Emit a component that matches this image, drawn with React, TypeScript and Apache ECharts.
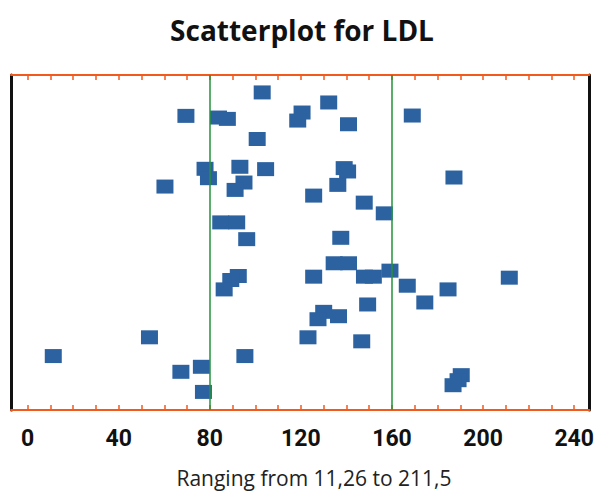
import React, { useEffect, useRef } from "react";
import * as echarts from "echarts";

const xValues: number[] = [
  103.0, 69.5, 83.8, 87.7, 120.5, 118.6, 132.2, 140.9, 168.9, 100.8,
  77.9, 79.4, 93.2, 104.5, 95.0, 91.1, 60.3, 139.0, 140.5, 136.2,
  125.6, 147.8, 156.6, 187.2, 84.8, 91.8, 96.2, 137.5, 92.5, 89.2,
  86.3, 134.6, 140.9, 125.6, 147.9, 151.8, 159.1, 166.7, 184.6, 174.4,
  211.5, 149.3, 130.0, 127.5, 136.5, 123.1, 146.7, 53.5, 11.26, 95.4,
  67.3, 76.3, 77.2, 190.4, 189.0, 186.8,
];
const yJitter: number[] = [
  94.8, 87.8, 87.3, 86.9, 88.8, 86.4, 91.8, 85.3, 87.9, 80.9,
  72.0, 69.2, 72.6, 71.9, 67.9, 65.7, 66.7, 72.2, 71.2, 67.2,
  64.0, 61.9, 58.7, 69.4, 56.0, 56.0, 51.0, 51.4, 40.0, 38.8,
  36.0, 43.8, 43.8, 39.8, 39.8, 39.8, 41.6, 37.1, 36.0, 32.1,
  39.5, 31.5, 29.3, 27.1, 28.0, 21.7, 20.5, 21.7, 16.1, 16.1,
  11.4, 12.9, 5.4, 10.4, 8.9, 7.4,
];
const tickValues: number[] = [0, 10, 20, 30, 40, 50, 60, 70, 80, 90, 100, 110, 120, 130, 140, 150, 160, 170, 180, 190, 200, 210, 220, 230, 240];
const labelValues: number[] = [0, 40, 80, 120, 160, 200, 240];
const referenceLines: number[] = [80, 160];
const titleText = "Scatterplot for LDL";
const subtitleText = "Ranging from 11,26 to 211,5";

const ORANGE = "#f25a1d";
const BLUE = "#2c62a0";
const GREEN = "#23923a";

export default function App() {
  const ref = useRef<HTMLDivElement>(null);
  useEffect(() => {
    if (!ref.current) return;
    const chart = echarts.init(ref.current, null, { renderer: "svg" });
    const points = xValues.map((x, i) => [x, yJitter[i]]);
    const xCommon = {
      type: "value" as const,
      min: -7.3,
      max: 246.7,
      splitLine: { show: false },
      axisLine: { show: true, onZero: false, lineStyle: { color: ORANGE, width: 2 } },
      axisTick: {
        show: true,
        inside: true,
        length: 5,
        customValues: tickValues,
        lineStyle: { color: ORANGE, width: 1.5 },
      },
    };
    const yCommon = {
      type: "value" as const,
      min: 0,
      max: 100,
      splitLine: { show: false },
      axisTick: { show: false },
      axisLabel: { show: false },
      axisLine: { show: true, onZero: false, lineStyle: { color: "#111111", width: 3 } },
    };
    chart.setOption({
      animation: false,
      backgroundColor: "#ffffff",
      grid: { left: 11, right: 5, top: 75, bottom: 82, containLabel: false },
      xAxis: [
        {
          ...xCommon,
          position: "bottom",
          axisLabel: {
            show: true,
            customValues: labelValues,
            margin: 17,
            color: "#111111",
            fontSize: 23,
            fontWeight: "bold",
            fontFamily: "Roboto, sans-serif",
          },
        },
        {
          ...xCommon,
          position: "top",
          axisLabel: { show: false },
        },
      ],
      yAxis: [
        { ...yCommon, position: "left" },
        { ...yCommon, position: "right" },
      ],
      graphic: [
        {
          type: "text",
          x: 302,
          y: 30,
          style: {
            text: titleText,
            fill: "#111111",
            font: "bold 28px 'Open Sans', sans-serif",
            textAlign: "center",
            textVerticalAlign: "middle",
          },
        },
        {
          type: "text",
          x: 314,
          y: 478,
          style: {
            text: subtitleText,
            fill: "#222222",
            font: "21px 'Open Sans', sans-serif",
            textAlign: "center",
            textVerticalAlign: "middle",
          },
        },
      ],
      series: [
        {
          type: "scatter",
          xAxisIndex: 0,
          yAxisIndex: 0,
          symbol: "rect",
          symbolSize: [17, 14],
          itemStyle: { color: BLUE, opacity: 1 },
          data: points,
          z: 2,
        },
        {
          type: "scatter",
          xAxisIndex: 0,
          yAxisIndex: 0,
          data: [],
          z: 5,
          markLine: {
            silent: true,
            symbol: ["none", "none"],
            label: { show: false },
            lineStyle: { color: GREEN, width: 1.5, type: "solid" },
            data: referenceLines.map((v) => ({ xAxis: v })),
          },
        },
      ],
    });
    return () => chart.dispose();
  }, []);
  return (
    <div
      ref={ref}
      style={{ position: "fixed", left: 0, top: 0, width: 597, height: 492 }}
    />
  );
}
